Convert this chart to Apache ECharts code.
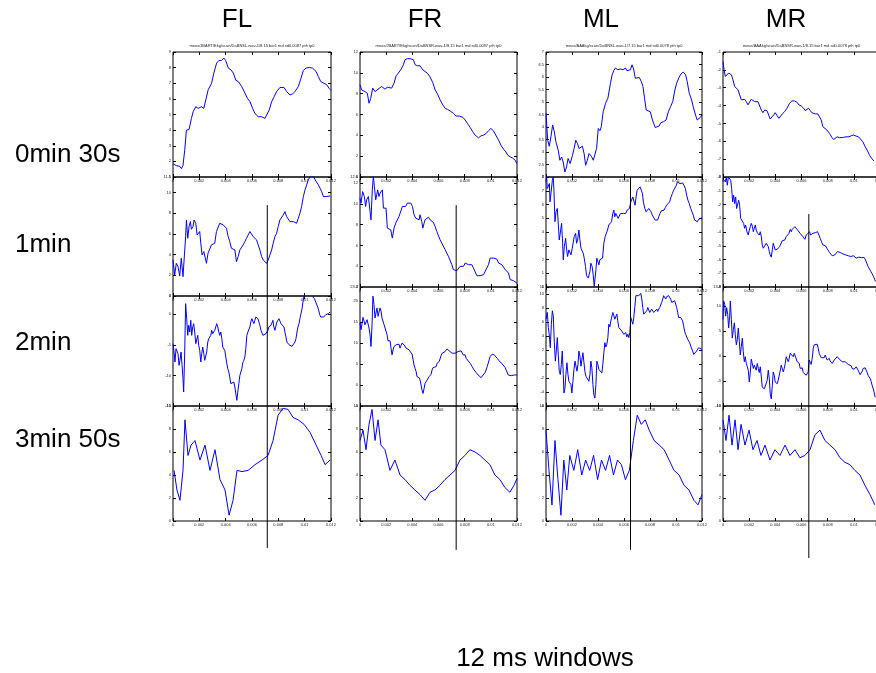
<!DOCTYPE html>
<html><head><meta charset="utf-8">
<script src="https://cdn.jsdelivr.net/npm/echarts@6/dist/echarts.min.js"></script>
<style>html,body{margin:0;padding:0;background:#fff}#c{width:876px;height:673px}</style>
</head><body><div id="c"></div>
<script>
// ---- labels ----
const columns = ['FL', 'FR', 'ML', 'MR'];
const rowLabels = ['0min 30s', '1min', '2min', '3min 50s'];
const xTitle = '12 ms windows';
const xTickStepMs = 2;
const xMaxMs = 12;
const subTitles = [
  'meas/JBART/Ekg/scan/DaBNSL.wav-1/8.15 bar1 md sd0.0087 pth tp0',
  'meas/JBART/Ekg/scan/DaBNSR.wav-1/8.15 bar1 md sd0.0087 pth tp0',
  'meas/AAAkg/scan/DaBNSL.wav-1/7.15 bar1 md sd0.0078 pth tp0',
  'meas/AAAkg/scan/DaBNSR.wav-1/8.15 bar1 md sd0.0078 pth tp0'
];
// y axis [min, max, interval] by row, then column
const yScalesRow1 = [[1, 9, 1], [0, 12, 2], [2, 7, 0.5], [-8, -1, 1]];
const yScalesRow2 = [[0, 11.5, 2], [2, 12.6, 2], [0, 8, 1], [-8, 0, 1]];
const yScalesRow3 = [[-15, 3, 5], [-5, 23.4, 5], [-6, 11, 2], [-10, 13.8, 5]];
const yScalesRow4 = [[0, 10, 2], [0, 10, 2], [0, 10, 2], [0, 10, 2]];
// window markers (ms) and their vertical extent (fraction of the marker band)
const markerMs = [7.16, 7.35, 6.5, 6.56];
const markerLow = [0.031, 0.026, 0.026, 0.005];
const markerHigh = [0.91, 0.91, 0.982, 0.887];

// ---- series data: [time ms, value] ----
const FL_r1 = [[0,1.85],[0.25,1.73],[0.51,1.68],[0.64,1.53],[0.76,1.75],[0.89,2.71],[1.02,4.0],[1.22,4.04],[1.4,4.75],[1.53,5.18],[1.73,5.5],[1.91,5.39],[2.04,5.44],[2.16,5.5],[2.34,5.39],[2.49,5.93],[2.67,6.58],[2.93,7.0],[3.1,7.65],[3.31,8.29],[3.49,8.46],[3.69,8.46],[3.87,8.61],[4.0,8.46],[4.2,7.97],[4.4,7.86],[4.58,7.65],[4.78,7.18],[4.96,7.11],[5.22,6.79],[5.47,6.36],[5.65,6.04],[5.85,5.82],[6.05,5.39],[6.22,5.07],[6.47,4.86],[6.73,4.86],[6.98,4.75],[7.1,4.86],[7.31,5.29],[7.49,5.82],[7.69,6.15],[7.87,6.47],[8.12,6.73],[8.43,6.73],[8.63,6.47],[8.88,6.25],[9.09,6.32],[9.26,6.47],[9.52,6.79],[9.7,7.26],[9.9,7.82],[10.1,7.97],[10.36,8.01],[10.6,7.97],[10.86,7.76],[11.04,7.43],[11.22,7.11],[11.47,7.0],[11.68,6.9],[11.85,6.68],[12,6.55]];
const FR_r1 = [[0,8.85],[0.13,8.36],[0.38,8.2],[0.56,8.04],[0.69,7.08],[0.82,7.56],[0.97,8.53],[1.15,8.2],[1.28,8.04],[1.48,8.53],[1.66,8.69],[1.91,8.43],[2.09,8.62],[2.24,8.53],[2.42,8.53],[2.6,9.01],[2.76,9.72],[2.93,9.97],[3.11,10.29],[3.32,10.78],[3.44,11.26],[3.62,11.36],[3.83,11.36],[3.95,11.42],[4.08,11.26],[4.21,10.78],[4.39,10.68],[4.59,10.68],[4.8,10.29],[4.97,10.13],[5.15,9.97],[5.36,9.59],[5.56,9.07],[5.74,8.36],[5.92,7.98],[6.12,7.4],[6.33,6.92],[6.51,6.59],[6.68,6.5],[6.89,6.34],[7.14,6.11],[7.35,5.85],[7.6,5.85],[7.86,5.73],[8.04,5.47],[8.21,5.15],[8.42,4.76],[8.62,4.34],[8.8,4.02],[9.06,3.76],[9.26,3.96],[9.44,4.02],[9.64,4.18],[9.82,4.44],[10.0,4.66],[10.2,4.44],[10.38,4.02],[10.59,3.54],[10.77,3.06],[10.97,2.67],[11.15,2.41],[11.3,2.09],[11.48,1.93],[11.66,1.83],[11.86,1.61],[11.99,1.29]];
const ML_r1 = [[0,4.55],[0.13,3.47],[0.25,3.23],[0.38,3.61],[0.51,4.08],[0.64,3.81],[0.76,3.41],[0.94,3.07],[1.07,2.67],[1.2,2.8],[1.32,2.6],[1.45,2.2],[1.58,2.4],[1.7,2.74],[1.86,2.54],[2.04,2.87],[2.16,3.14],[2.29,3.47],[2.42,3.34],[2.54,3.14],[2.67,3.21],[2.8,3.23],[2.93,2.94],[3.05,2.47],[3.18,2.67],[3.31,2.94],[3.49,2.83],[3.64,2.67],[3.77,2.74],[3.89,3.14],[4.02,3.94],[4.15,3.85],[4.25,4.01],[4.4,4.61],[4.58,4.95],[4.76,5.15],[4.96,5.75],[5.09,6.09],[5.22,6.26],[5.34,6.36],[5.52,6.29],[5.73,6.32],[5.93,6.29],[6.11,6.36],[6.23,6.25],[6.36,6.29],[6.49,6.29],[6.62,6.49],[6.74,6.32],[6.87,5.95],[7.0,5.99],[7.18,5.98],[7.33,5.82],[7.46,5.62],[7.58,5.15],[7.71,4.68],[7.84,4.68],[8.02,4.61],[8.19,4.28],[8.4,3.98],[8.52,3.9],[8.7,4.04],[8.83,4.17],[9.03,4.21],[9.24,4.28],[9.41,4.61],[9.59,4.82],[9.75,5.02],[9.92,5.49],[10.05,5.75],[10.23,5.98],[10.38,6.12],[10.56,6.2],[10.74,6.09],[10.86,5.82],[11.02,5.35],[11.2,5.08],[11.32,4.82],[11.5,4.48],[11.63,4.28],[11.76,4.28],[11.88,4.39],[12.0,4.48]];
const MR_r1 = [[0,-1.53],[0.08,-2.0],[0.18,-2.37],[0.31,-2.37],[0.43,-2.18],[0.51,-2.09],[0.64,-2.28],[0.76,-2.56],[0.89,-2.93],[1.02,-3.03],[1.15,-3.12],[1.27,-3.4],[1.4,-3.68],[1.53,-3.74],[1.65,-3.65],[1.78,-3.78],[1.91,-3.96],[2.04,-3.87],[2.16,-3.65],[2.29,-3.59],[2.42,-3.78],[2.54,-3.87],[2.67,-3.78],[2.8,-3.87],[2.93,-4.25],[3.05,-4.4],[3.18,-4.25],[3.36,-4.28],[3.49,-4.53],[3.61,-4.75],[3.74,-4.71],[3.87,-4.53],[3.99,-4.4],[4.15,-4.58],[4.27,-4.71],[4.4,-4.66],[4.53,-4.47],[4.71,-4.34],[4.89,-4.15],[5.09,-3.87],[5.27,-3.74],[5.47,-3.74],[5.65,-3.81],[5.8,-3.96],[5.98,-4.02],[6.16,-4.15],[6.28,-4.28],[6.41,-4.25],[6.54,-4.15],[6.67,-4.28],[6.79,-4.4],[6.92,-4.47],[7.07,-4.47],[7.25,-4.47],[7.38,-4.53],[7.51,-4.81],[7.63,-5.18],[7.76,-5.28],[7.94,-5.37],[8.14,-5.56],[8.32,-5.78],[8.45,-5.9],[8.6,-5.84],[8.73,-5.75],[8.91,-5.8],[9.03,-5.84],[9.21,-5.78],[9.41,-5.75],[9.62,-5.75],[9.8,-5.69],[9.97,-5.65],[10.18,-5.71],[10.36,-5.75],[10.51,-5.84],[10.69,-6.03],[10.87,-6.31],[11.02,-6.5],[11.2,-6.78],[11.37,-6.97],[11.53,-7.1]];

const FL_r2 = [[0,3.48],[0.13,2.03],[0.25,3.16],[0.38,2.84],[0.51,1.94],[0.63,3.65],[0.76,1.87],[0.84,1.81],[0.96,5.74],[1.02,7.35],[1.12,5.58],[1.22,6.71],[1.32,7.19],[1.4,6.45],[1.52,6.71],[1.6,7.35],[1.73,7.03],[1.83,5.9],[1.95,6.06],[2.03,6.23],[2.11,5.1],[2.21,3.97],[2.34,4.29],[2.41,4.29],[2.54,3.16],[2.66,4.13],[2.79,4.29],[2.92,4.94],[3.05,4.94],[3.17,5.1],[3.3,6.23],[3.43,6.39],[3.55,7.03],[3.68,6.87],[3.81,6.87],[3.93,7.03],[4.06,6.55],[4.19,5.74],[4.31,5.26],[4.44,4.61],[4.57,4.77],[4.7,4.45],[4.82,3.32],[4.95,3.81],[5.08,4.45],[5.2,4.39],[5.33,4.94],[5.46,5.26],[5.58,5.58],[5.71,5.74],[5.84,6.23],[5.96,6.06],[6.09,5.74],[6.22,5.58],[6.35,5.42],[6.47,4.94],[6.6,4.45],[6.73,3.81],[6.85,3.48],[6.98,3.32],[7.11,3.16],[7.23,3.48],[7.36,3.97],[7.49,4.45],[7.61,5.1],[7.74,5.74],[7.87,6.06],[7.99,6.71],[8.12,7.35],[8.25,7.52],[8.38,7.84],[8.5,8.16],[8.63,7.68],[8.76,7.52],[8.88,7.19],[9.01,7.03],[9.14,7.19],[9.26,7.19],[9.39,7.03],[9.52,7.52],[9.64,8.0],[9.77,8.65],[9.9,9.61],[10.03,10.26],[10.15,10.74],[10.28,11.23],[10.41,11.55],[10.53,11.55],[10.66,11.55],[10.79,11.23],[10.91,11.06],[11.04,10.74],[11.17,10.42],[11.29,10.1],[11.42,9.61],[11.55,9.61],[11.68,9.61],[11.8,9.68],[11.93,9.68]];
const FR_r2 = [[0,10.56],[0.08,10.08],[0.2,11.2],[0.33,10.72],[0.43,9.76],[0.51,10.4],[0.64,10.72],[0.77,9.28],[0.84,8.47],[0.94,11.36],[1.02,12.64],[1.1,11.68],[1.2,10.4],[1.28,10.88],[1.35,11.36],[1.45,10.72],[1.53,11.04],[1.61,10.88],[1.71,11.36],[1.79,9.6],[1.86,9.44],[1.99,9.6],[2.09,7.67],[2.22,7.83],[2.35,7.51],[2.47,6.71],[2.6,7.67],[2.73,8.15],[2.86,7.99],[2.98,8.79],[3.11,8.63],[3.24,9.76],[3.37,9.92],[3.49,9.76],[3.62,10.08],[3.75,10.08],[3.88,10.08],[4.01,9.76],[4.13,8.96],[4.26,8.63],[4.39,8.63],[4.52,8.47],[4.59,8.96],[4.72,8.31],[4.8,7.67],[4.9,8.15],[4.97,8.47],[5.1,8.63],[5.23,8.73],[5.36,8.47],[5.48,8.47],[5.61,8.22],[5.74,7.83],[5.87,7.35],[5.99,7.26],[6.12,6.55],[6.25,6.23],[6.38,6.07],[6.51,5.59],[6.63,5.27],[6.76,4.95],[6.89,4.79],[7.02,4.15],[7.14,3.67],[7.27,3.57],[7.4,3.57],[7.53,3.67],[7.65,3.99],[7.78,3.83],[7.91,3.99],[8.04,4.31],[8.16,4.47],[8.29,4.15],[8.42,4.05],[8.55,4.15],[8.67,3.83],[8.8,3.67],[8.93,3.09],[9.06,3.03],[9.18,3.09],[9.31,3.03],[9.44,3.19],[9.57,3.51],[9.69,3.6],[9.82,4.15],[9.95,4.79],[10.08,4.85],[10.2,4.79],[10.33,4.63],[10.46,4.69],[10.59,4.31],[10.71,4.15],[10.84,4.15],[10.97,3.99],[11.1,3.67],[11.22,3.67],[11.35,3.35],[11.48,2.71],[11.61,2.61],[11.73,2.61],[11.86,2.48],[11.99,2.38]];
const ML_r2 = [[0,7.76],[0.05,8.0],[0.1,7.16],[0.18,7.04],[0.26,7.52],[0.31,6.19],[0.38,6.8],[0.49,7.76],[0.56,8.0],[0.61,7.04],[0.69,4.75],[0.77,5.47],[0.87,5.71],[0.95,4.51],[1.02,3.42],[1.13,4.14],[1.2,4.63],[1.28,3.18],[1.33,1.98],[1.41,2.94],[1.51,3.54],[1.59,2.7],[1.66,2.22],[1.76,2.7],[1.84,2.82],[1.92,2.34],[2.02,2.82],[2.1,2.7],[2.17,3.66],[2.28,3.9],[2.35,3.18],[2.43,3.42],[2.53,4.14],[2.61,3.42],[2.69,2.82],[2.79,2.94],[2.86,2.46],[2.94,2.1],[3.04,1.49],[3.12,0.82],[3.25,0.65],[3.38,1.13],[3.45,1.73],[3.55,1.49],[3.63,0.89],[3.71,0.05],[3.76,-0.07],[3.84,1.25],[3.91,2.1],[3.99,1.86],[4.07,1.61],[4.14,1.98],[4.22,1.98],[4.35,2.1],[4.45,3.18],[4.55,3.66],[4.65,3.66],[4.73,4.14],[4.83,4.51],[4.94,4.43],[5.04,4.75],[5.14,5.35],[5.22,5.59],[5.29,5.11],[5.37,5.35],[5.47,5.35],[5.55,4.99],[5.63,5.11],[5.73,5.35],[5.81,5.47],[5.88,5.23],[5.98,5.35],[6.06,5.47],[6.14,5.35],[6.24,5.59],[6.32,5.47],[6.42,5.71],[6.52,6.19],[6.57,6.31],[6.68,6.55],[6.78,6.19],[6.85,5.95],[6.93,6.55],[7.01,7.04],[7.08,7.16],[7.16,7.16],[7.24,7.28],[7.34,7.4],[7.42,6.8],[7.49,6.19],[7.6,5.71],[7.7,5.47],[7.8,5.47],[7.9,5.71],[7.98,5.83],[8.08,5.47],[8.18,5.23],[8.29,5.11],[8.39,4.87],[8.49,4.75],[8.59,4.87],[8.67,5.11],[8.77,5.35],[8.87,5.54],[8.98,5.64],[9.08,5.59],[9.18,5.78],[9.28,5.95],[9.39,6.07],[9.51,6.19],[9.62,6.55],[9.72,6.8],[9.82,7.04],[9.92,7.16],[10.03,7.4],[10.1,7.64],[10.2,7.64],[10.31,7.52],[10.41,7.52],[10.51,7.57],[10.61,7.4],[10.72,7.16],[10.82,6.67],[10.92,6.31],[11.02,6.07],[11.13,5.71],[11.23,5.47],[11.33,5.23],[11.43,4.87],[11.53,4.75],[11.64,4.75],[11.74,4.92],[11.87,4.99],[12.0,5.04]];
const MR_r2 = [[0,-0.12],[0.08,0.0],[0.18,-0.36],[0.25,0],[0.33,-0.6],[0.41,0],[0.51,0.12],[0.59,-0.24],[0.66,-0.84],[0.74,-1.81],[0.81,-1.33],[0.89,-1.93],[0.97,-1.45],[1.04,-2.29],[1.12,-2.17],[1.2,-1.69],[1.27,-2.05],[1.35,-3.01],[1.42,-3.13],[1.5,-2.89],[1.58,-3.37],[1.65,-3.73],[1.73,-3.49],[1.83,-3.98],[1.93,-4.22],[2.01,-3.86],[2.09,-3.61],[2.16,-3.37],[2.24,-3.57],[2.32,-3.98],[2.39,-3.73],[2.47,-3.49],[2.54,-3.86],[2.62,-4.05],[2.7,-3.98],[2.77,-4.22],[2.85,-3.98],[2.93,-4.34],[3.0,-4.94],[3.08,-5.18],[3.16,-5.3],[3.23,-5.18],[3.31,-4.82],[3.38,-4.7],[3.46,-5.06],[3.54,-5.42],[3.61,-5.66],[3.69,-5.83],[3.77,-5.3],[3.84,-4.82],[3.92,-4.94],[3.99,-5.3],[4.07,-5.18],[4.15,-5.25],[4.22,-5.11],[4.33,-5.06],[4.43,-4.94],[4.53,-4.63],[4.63,-4.7],[4.73,-4.58],[4.83,-4.34],[4.94,-4.29],[5.04,-4.1],[5.14,-3.81],[5.22,-3.98],[5.29,-3.81],[5.39,-3.73],[5.5,-3.61],[5.6,-3.73],[5.7,-3.86],[5.8,-3.9],[5.9,-4.1],[6.01,-4.22],[6.11,-4.34],[6.18,-4.46],[6.26,-4.53],[6.36,-4.22],[6.49,-4.1],[6.62,-3.98],[6.69,-4.22],[6.79,-4.34],[6.87,-4.1],[6.97,-3.98],[7.05,-4.05],[7.12,-3.98],[7.23,-3.98],[7.33,-4.22],[7.43,-4.46],[7.53,-4.7],[7.63,-4.94],[7.74,-5.06],[7.84,-5.01],[7.94,-5.18],[8.04,-5.3],[8.14,-5.49],[8.24,-5.54],[8.35,-5.73],[8.45,-5.73],[8.55,-5.66],[8.65,-5.54],[8.75,-5.42],[8.85,-5.35],[8.96,-5.49],[9.06,-5.54],[9.16,-5.59],[9.26,-5.59],[9.36,-5.66],[9.47,-5.66],[9.57,-5.73],[9.67,-5.83],[9.77,-5.78],[9.87,-5.83],[9.97,-5.73],[10.08,-5.83],[10.18,-5.9],[10.28,-5.86],[10.38,-5.83],[10.48,-5.86],[10.59,-5.86],[10.69,-5.83],[10.79,-5.86],[10.89,-6.02],[10.99,-6.27],[11.09,-6.51],[11.2,-6.7],[11.3,-6.87],[11.4,-7.04],[11.5,-7.23],[11.6,-7.47],[11.65,-7.59]];

const FL_r3 = [[0,-4.8],[0.08,-6.17],[0.15,-7.8],[0.23,-5.62],[0.3,-5.51],[0.38,-6.44],[0.46,-8.35],[0.53,-7.53],[0.61,-6.17],[0.69,-8.35],[0.76,-10.53],[0.81,-12.71],[0.89,-6.17],[0.96,1.75],[1.04,-0.71],[1.12,-3.44],[1.19,-1.8],[1.27,-2.89],[1.35,-0.98],[1.42,-3.44],[1.5,-2.07],[1.57,-1.53],[1.65,-2.89],[1.73,-4.8],[1.8,-4.53],[1.88,-3.44],[1.95,-5.07],[2.03,-5.89],[2.11,-7.8],[2.18,-6.44],[2.26,-5.35],[2.34,-6.44],[2.41,-7.53],[2.49,-7.26],[2.56,-6.17],[2.64,-4.53],[2.72,-3.98],[2.79,-3.98],[2.87,-3.44],[2.94,-2.62],[3.02,-3.16],[3.1,-3.44],[3.17,-2.62],[3.25,-2.35],[3.32,-1.53],[3.4,-2.07],[3.48,-2.89],[3.55,-3.44],[3.63,-2.89],[3.71,-3.98],[3.78,-5.35],[3.86,-5.35],[3.93,-5.89],[4.01,-6.98],[4.09,-8.07],[4.16,-8.89],[4.24,-9.44],[4.31,-10.26],[4.39,-11.35],[4.47,-11.08],[4.54,-11.62],[4.62,-11.08],[4.7,-11.89],[4.77,-12.98],[4.85,-14.08],[4.92,-12.71],[5.0,-11.35],[5.08,-9.98],[5.15,-9.71],[5.23,-8.89],[5.3,-7.91],[5.38,-7.53],[5.46,-6.98],[5.53,-5.62],[5.61,-3.44],[5.69,-2.89],[5.76,-2.78],[5.84,-2.07],[5.91,-1.26],[5.99,-0.71],[6.07,-0.98],[6.14,-1.53],[6.22,-0.98],[6.29,-0.44],[6.37,-0.44],[6.45,-0.71],[6.52,-0.98],[6.6,-1.8],[6.68,-2.62],[6.75,-2.89],[6.83,-3.44],[6.9,-3.44],[6.98,-3.16],[7.06,-3.16],[7.13,-3.16],[7.21,-2.62],[7.28,-2.07],[7.36,-2.35],[7.44,-1.8],[7.51,-1.8],[7.59,-0.98],[7.66,-2.07],[7.74,-2.62],[7.82,-2.35],[7.89,-1.26],[7.97,-0.98],[8.05,-0.71],[8.12,-0.98],[8.2,-1.53],[8.27,-1.8],[8.35,-1.8],[8.43,-2.07],[8.5,-2.89],[8.58,-3.71],[8.65,-4.53],[8.73,-4.8],[8.81,-4.97],[8.88,-5.07],[8.96,-5.24],[9.04,-5.24],[9.11,-5.35],[9.19,-5.18],[9.26,-4.53],[9.34,-3.98],[9.42,-2.89],[9.49,-2.07],[9.57,-1.53],[9.64,-0.71],[9.72,0.11],[9.8,0.93],[9.87,2.02],[9.95,3.0],[10.03,3.65],[10.15,4.2],[10.28,4.2],[10.41,3.93],[10.53,3.11],[10.66,3.0],[10.74,2.56],[10.84,2.02],[10.91,1.75],[10.99,1.2],[11.07,0.66],[11.14,-0.06],[11.22,-0.44],[11.29,-0.6],[11.37,-0.55],[11.45,-0.44],[11.52,-0.27],[11.6,-0.06],[11.68,-0.16],[11.8,0.11],[11.93,0.38]];
const FR_r3 = [[0,14.8],[0.08,13.2],[0.15,13.6],[0.23,16.16],[0.31,16.0],[0.38,14.4],[0.46,14.8],[0.54,15.6],[0.61,16.0],[0.69,13.6],[0.77,12.0],[0.84,9.2],[0.92,14.4],[0.99,21.2],[1.07,19.2],[1.15,16.0],[1.22,17.2],[1.3,18.4],[1.38,16.4],[1.45,16.8],[1.53,18.4],[1.61,17.6],[1.68,16.0],[1.76,15.6],[1.84,14.4],[1.91,14.0],[1.99,14.4],[2.07,12.0],[2.14,10.56],[2.22,10.24],[2.3,10.56],[2.37,8.8],[2.45,7.2],[2.53,8.4],[2.6,9.2],[2.68,9.2],[2.76,9.6],[2.83,9.2],[2.91,9.6],[2.98,9.76],[3.06,8.8],[3.14,9.44],[3.21,10.0],[3.29,10.24],[3.37,9.6],[3.44,9.2],[3.52,8.8],[3.6,9.2],[3.67,8.8],[3.75,8.4],[3.83,8.0],[3.9,8.0],[3.98,7.36],[4.06,6.0],[4.13,4.8],[4.21,4.0],[4.29,3.2],[4.36,2.0],[4.44,1.6],[4.52,1.76],[4.59,1.2],[4.67,0.0],[4.74,-1.2],[4.82,-2.0],[4.9,-0.8],[4.97,0.4],[5.05,0.8],[5.13,1.2],[5.2,1.6],[5.28,2.0],[5.36,2.24],[5.43,2.56],[5.51,3.6],[5.59,4.16],[5.66,4.0],[5.74,4.4],[5.82,4.4],[5.89,5.2],[5.97,5.44],[6.05,5.6],[6.12,6.0],[6.2,7.04],[6.28,7.6],[6.35,7.6],[6.43,8.0],[6.51,8.0],[6.58,8.4],[6.66,8.64],[6.73,8.4],[6.81,8.16],[6.89,8.0],[6.96,8.0],[7.04,7.6],[7.12,7.2],[7.19,7.6],[7.27,7.6],[7.35,8.0],[7.42,8.0],[7.5,8.0],[7.58,7.6],[7.65,8.0],[7.73,8.16],[7.81,7.76],[7.88,7.2],[7.96,6.8],[8.04,7.2],[8.11,6.4],[8.19,6.0],[8.27,5.76],[8.34,5.76],[8.42,5.2],[8.49,4.8],[8.57,4.4],[8.65,4.0],[8.72,3.6],[8.8,3.2],[8.88,2.96],[8.95,2.56],[9.03,2.4],[9.11,2.16],[9.18,2.0],[9.26,1.76],[9.34,2.0],[9.41,2.4],[9.49,2.8],[9.57,3.04],[9.64,3.6],[9.72,4.4],[9.8,5.2],[9.87,6.0],[9.95,6.8],[10.03,7.2],[10.1,7.36],[10.18,7.2],[10.26,7.2],[10.33,7.04],[10.41,6.8],[10.48,6.4],[10.56,6.0],[10.64,5.76],[10.71,5.44],[10.79,5.36],[10.87,5.04],[10.94,4.8],[11.02,4.64],[11.1,4.16],[11.17,3.6],[11.25,3.2],[11.33,2.4],[11.4,2.4],[11.48,2.24],[11.56,2.24],[11.63,2.4],[11.71,2.56],[11.79,2.4],[11.86,2.4],[11.99,2.4]];
const ML_r3 = [[0,6.4],[0.1,7.36],[0.18,5.2],[0.26,4.0],[0.33,2.33],[0.41,5.68],[0.49,7.6],[0.56,6.88],[0.64,3.05],[0.72,0.41],[0.79,1.85],[0.87,3.77],[0.95,1.13],[1.02,-1.03],[1.1,-1.51],[1.18,-0.07],[1.25,1.85],[1.33,-1.51],[1.38,-4.15],[1.46,-3.43],[1.53,-1.51],[1.61,0.17],[1.69,-1.51],[1.76,-2.47],[1.84,-2.23],[1.92,-2.95],[1.99,-4.15],[2.07,-2.47],[2.15,-0.79],[2.23,0.41],[2.3,0.17],[2.38,-1.03],[2.46,-0.07],[2.53,1.85],[2.61,1.13],[2.69,-0.31],[2.76,-0.55],[2.84,1.61],[2.92,1.37],[2.99,-1.03],[3.07,-1.75],[3.15,-1.51],[3.22,-1.99],[3.3,-2.47],[3.38,-1.51],[3.45,0.41],[3.53,-0.55],[3.61,-2.95],[3.68,-4.39],[3.76,-4.87],[3.84,-2.95],[3.91,0.41],[3.99,-0.07],[4.07,-0.79],[4.14,-0.55],[4.22,-1.03],[4.3,-1.27],[4.37,-0.07],[4.45,1.61],[4.53,3.05],[4.6,2.42],[4.68,2.81],[4.76,3.77],[4.83,5.68],[4.91,5.3],[4.99,6.16],[5.06,6.4],[5.14,7.36],[5.22,6.88],[5.29,6.4],[5.37,6.64],[5.45,7.12],[5.52,6.16],[5.6,5.2],[5.68,4.96],[5.75,5.3],[5.83,4.72],[5.91,4.48],[5.98,4.24],[6.06,4.24],[6.14,4.48],[6.21,3.86],[6.29,4.24],[6.37,3.77],[6.45,4.48],[6.52,6.64],[6.6,6.4],[6.68,5.68],[6.75,6.64],[6.83,8.08],[6.91,9.76],[6.98,9.52],[7.06,10.0],[7.14,9.76],[7.21,10.0],[7.29,10.1],[7.37,9.28],[7.44,8.08],[7.52,7.12],[7.6,6.88],[7.67,7.12],[7.75,7.6],[7.83,8.08],[7.9,7.84],[7.98,7.36],[8.06,7.51],[8.13,7.84],[8.21,7.6],[8.29,7.36],[8.36,7.36],[8.44,7.6],[8.52,7.84],[8.59,7.51],[8.67,7.6],[8.75,8.08],[8.82,8.32],[8.9,8.8],[8.98,9.28],[9.05,9.76],[9.13,9.62],[9.21,9.28],[9.28,9.62],[9.36,9.76],[9.44,9.76],[9.51,9.52],[9.59,9.28],[9.67,8.8],[9.74,8.56],[9.82,8.8],[9.9,9.04],[9.97,8.8],[10.05,8.08],[10.13,7.36],[10.2,6.64],[10.28,6.4],[10.36,6.64],[10.43,6.64],[10.51,6.16],[10.59,5.44],[10.66,4.72],[10.74,4.24],[10.82,4.0],[10.9,3.53],[10.97,3.29],[11.05,3.05],[11.13,2.57],[11.2,2.33],[11.28,1.85],[11.36,1.37],[11.43,1.46],[11.51,1.61],[11.59,1.85],[11.66,2.09],[11.74,2.33],[11.87,2.18],[11.99,2.09]];
const MR_r3 = [[0,7.3],[0.05,11.01],[0.13,10.34],[0.2,7.97],[0.28,9.66],[0.36,8.31],[0.43,5.61],[0.51,7.97],[0.56,11.01],[0.64,7.3],[0.71,3.58],[0.79,5.27],[0.87,6.62],[0.94,4.26],[1.02,2.23],[1.09,3.24],[1.17,5.61],[1.25,2.91],[1.32,0.2],[1.4,1.89],[1.48,3.58],[1.55,0.88],[1.63,-1.15],[1.7,-0.14],[1.78,-1.49],[1.86,-1.82],[1.93,-2.84],[2.01,-5.2],[2.09,-3.18],[2.16,-0.61],[2.24,-0.81],[2.32,-2.5],[2.39,-1.82],[2.47,-1.69],[2.54,-2.84],[2.62,-1.49],[2.7,-2.5],[2.77,-3.31],[2.85,-2.16],[2.93,-4.19],[3.0,-6.22],[3.08,-6.55],[3.16,-6.55],[3.23,-6.22],[3.31,-6.89],[3.38,-4.86],[3.46,-2.84],[3.54,-4.53],[3.61,-7.57],[3.69,-8.58],[3.77,-5.88],[3.84,-3.18],[3.92,-3.85],[3.99,-5.2],[4.07,-4.86],[4.15,-5.54],[4.22,-4.86],[4.3,-4.53],[4.38,-2.84],[4.45,-1.82],[4.53,-2.16],[4.61,-3.18],[4.68,-2.5],[4.76,-1.49],[4.83,-0.14],[4.91,-0.47],[4.99,-1.15],[5.06,-0.47],[5.14,0.54],[5.22,0.88],[5.29,0.2],[5.37,-0.14],[5.45,0.54],[5.52,0.88],[5.6,0.2],[5.67,-1.15],[5.75,-1.15],[5.83,-1.49],[5.9,-2.5],[5.98,-2.16],[6.06,-2.36],[6.13,-3.31],[6.21,-3.51],[6.28,-3.18],[6.36,-3.85],[6.44,-4.19],[6.51,-3.18],[6.59,-0.81],[6.67,-1.28],[6.74,-1.69],[6.82,-0.47],[6.9,1.55],[6.97,2.23],[7.05,2.03],[7.12,2.23],[7.2,2.36],[7.28,1.55],[7.35,0.54],[7.43,0.2],[7.51,-0.34],[7.58,-0.61],[7.66,-0.47],[7.74,-0.34],[7.81,0.2],[7.89,-0.34],[7.96,-0.81],[8.04,-0.47],[8.12,-0.47],[8.19,-1.01],[8.27,-1.15],[8.35,-1.49],[8.42,-1.15],[8.5,-0.81],[8.58,-0.61],[8.65,-0.47],[8.73,-0.14],[8.8,-0.34],[8.88,-0.61],[8.96,-0.81],[9.03,-1.01],[9.11,-1.15],[9.19,-1.15],[9.26,-1.01],[9.34,-1.15],[9.41,-1.28],[9.49,-1.28],[9.57,-1.69],[9.64,-1.82],[9.72,-1.69],[9.8,-1.96],[9.87,-2.5],[9.95,-2.84],[10.03,-2.64],[10.1,-2.5],[10.18,-2.16],[10.25,-2.5],[10.33,-2.84],[10.41,-3.31],[10.48,-3.72],[10.56,-3.51],[10.64,-3.04],[10.71,-2.5],[10.79,-2.16],[10.87,-2.36],[10.94,-2.84],[11.02,-3.31],[11.09,-3.85],[11.17,-4.19],[11.25,-4.53],[11.32,-5.07],[11.4,-5.88],[11.48,-6.55],[11.55,-7.23],[11.63,-8.24]];

const FL_r4 = [[0.08,4.4],[0.3,2.7],[0.53,1.8],[0.76,4.4],[0.91,8.8],[1.14,5.7],[1.37,6.6],[1.67,7.0],[2.05,5.3],[2.43,6.6],[2.81,4.4],[3.19,6.2],[3.57,3.6],[3.95,2.7],[4.26,0.5],[4.56,1.8],[4.86,4.4],[5.24,4.3],[5.7,4.4],[6.23,4.9],[6.76,5.3],[7.22,5.7],[7.6,7.0],[7.98,9.2],[8.36,9.8],[8.74,9.7],[9.12,9.0],[9.5,8.8],[9.96,8.4],[10.41,7.7],[10.87,6.6],[11.25,5.7],[11.55,4.9],[11.93,5.3]];
const FR_r4 = [[0,7.0],[0.23,7.9],[0.46,6.2],[0.69,8.4],[0.92,9.7],[1.15,7.0],[1.38,8.8],[1.6,6.6],[1.91,6.2],[2.29,4.4],[2.67,5.3],[3.06,4.0],[3.44,3.6],[3.82,3.1],[4.2,2.7],[4.58,2.3],[4.97,1.8],[5.35,2.5],[5.73,2.7],[6.11,3.1],[6.49,3.6],[6.88,4.0],[7.26,4.4],[7.64,5.3],[8.02,5.7],[8.4,6.2],[8.79,6.0],[9.17,5.7],[9.55,5.3],[9.93,4.9],[10.31,4.0],[10.7,3.6],[11.08,2.9],[11.46,2.5],[11.77,3.1],[12.0,3.7]];
const ML_r4 = [[0,7.9],[0.23,4.4],[0.46,1.4],[0.69,7.0],[0.92,3.6],[1.15,0.5],[1.37,5.3],[1.6,2.7],[1.83,5.7],[2.14,4.4],[2.44,6.2],[2.75,4.0],[3.05,5.3],[3.36,4.4],[3.66,5.7],[3.97,3.6],[4.27,5.3],[4.58,4.4],[4.89,5.7],[5.19,4.0],[5.5,5.3],[5.8,4.9],[6.11,3.6],[6.41,4.4],[6.72,7.0],[7.02,9.2],[7.33,8.4],[7.63,8.8],[7.94,7.9],[8.32,7.0],[8.71,6.6],[9.09,6.2],[9.47,5.3],[9.85,4.4],[10.24,4.0],[10.62,3.1],[11.0,2.7],[11.38,1.8],[11.69,1.4],[12.0,2.3]];
const MR_r4 = [[0,8.8],[0.23,7.0],[0.46,9.2],[0.69,6.6],[0.92,8.8],[1.15,6.2],[1.38,8.4],[1.68,6.6],[1.99,7.9],[2.29,6.2],[2.6,7.0],[2.9,5.7],[3.21,6.6],[3.59,5.3],[3.97,6.2],[4.35,5.7],[4.74,6.6],[5.12,5.7],[5.5,6.2],[5.88,5.5],[6.26,5.7],[6.65,6.2],[7.03,7.5],[7.41,7.9],[7.79,7.0],[8.17,6.6],[8.56,6.2],[8.94,5.5],[9.32,5.1],[9.7,4.9],[10.08,4.4],[10.47,4.0],[10.85,3.1],[11.23,2.3],[11.61,1.4]];

// ---- assemble ----
const seriesByRow = [
  [FL_r1, FR_r1, ML_r1, MR_r1],
  [FL_r2, FR_r2, ML_r2, MR_r2],
  [FL_r3, FR_r3, ML_r3, MR_r3],
  [FL_r4, FR_r4, ML_r4, MR_r4]
];
const yScales = [yScalesRow1, yScalesRow2, yScalesRow3, yScalesRow4];

// layout (pixels)
const colLeft = [173, 360, 546, 723];
const colWidth = [158, 157, 156, 157];
const rowEdgesByCol = [
  [52, 177, 296, 406, 521],
  [52, 177, 287, 406, 521],
  [52, 177, 287, 406, 521],
  [52, 177, 287, 406, 521]
];
const markerBand = [170, 560];

const chart = echarts.init(document.getElementById('c'), null, {renderer: 'canvas'});
const grid = [], xAxis = [], yAxis = [], series = [];
const tinyLabel = {fontSize: 4, color: '#222', margin: 2, fontFamily: 'Liberation Sans, Arial, sans-serif'};
const tick = {inside: true, length: 3, lineStyle: {color: '#000', width: 1}};
const noLine = {show: false, onZero: false};
const toSec = d => d.map(p => [p[0] / 1000, p[1]]);

for (let r = 0; r < 4; r++) {
  for (let c = 0; c < 4; c++) {
    const gi = grid.length;
    const top = rowEdgesByCol[c][r], bottom = rowEdgesByCol[c][r + 1];
    grid.push({left: colLeft[c], top: top, width: colWidth[c], height: bottom - top,
      containLabel: false, outerBoundsMode: 'none',
      show: true, borderColor: '#000', borderWidth: 1, backgroundColor: 'transparent'});
    const [ymin, ymax, yint] = yScales[r][c];
    const xa = xAxis.length;
    xAxis.push({gridIndex: gi, type: 'value', position: 'bottom', min: 0, max: xMaxMs / 1000, interval: xTickStepMs / 1000,
      axisLine: noLine, axisTick: tick, axisLabel: tinyLabel, splitLine: {show: false}});
    xAxis.push({gridIndex: gi, type: 'value', position: 'top', min: 0, max: xMaxMs / 1000, interval: xTickStepMs / 1000,
      axisLine: noLine, axisTick: tick, axisLabel: {show: false}, splitLine: {show: false}});
    const ya = yAxis.length;
    yAxis.push({gridIndex: gi, type: 'value', position: 'left', min: ymin, max: ymax, interval: yint,
      axisLine: noLine, axisTick: tick, axisLabel: tinyLabel, splitLine: {show: false}});
    yAxis.push({gridIndex: gi, type: 'value', position: 'right', min: ymin, max: ymax, interval: yint,
      axisLine: noLine, axisTick: tick, axisLabel: {show: false}, splitLine: {show: false}});
    series.push({type: 'line', xAxisIndex: xa, yAxisIndex: ya, data: toSec(seriesByRow[r][c]),
      symbol: 'none', showSymbol: false, clip: true, silent: true,
      lineStyle: {color: '#0000ff', width: 1}});
  }
}
// marker band grids (one per column)
for (let c = 0; c < 4; c++) {
  const gi = grid.length;
  grid.push({left: colLeft[c], top: markerBand[0], width: colWidth[c], height: markerBand[1] - markerBand[0],
    show: false, containLabel: false, outerBoundsMode: 'none'});
  const xa = xAxis.length, ya = yAxis.length;
  xAxis.push({gridIndex: gi, type: 'value', min: 0, max: xMaxMs, show: false});
  yAxis.push({gridIndex: gi, type: 'value', min: 0, max: 1, show: false});
  series.push({type: 'line', xAxisIndex: xa, yAxisIndex: ya, symbol: 'none', clip: false, silent: true, z: 5,
    data: [[markerMs[c], markerLow[c]], [markerMs[c], markerHigh[c]]],
    lineStyle: {color: '#000', width: 1}});
}

const bigFont = '26px "Liberation Sans", Arial, sans-serif';
const graphic = [];
const colTitleX = [237, 425, 601, 786];
columns.forEach((t, c) => graphic.push({type: 'text', style: {text: t, x: colTitleX[c], y: 20, font: bigFont, fill: '#000', textAlign: 'center', textVerticalAlign: 'middle'}}));
const rowLabelY = [155, 245, 343, 440];
rowLabels.forEach((t, r) => graphic.push({type: 'text', style: {text: t, x: 15, y: rowLabelY[r], font: bigFont, fill: '#000', textAlign: 'left', textVerticalAlign: 'middle'}}));
graphic.push({type: 'text', style: {text: xTitle, x: 545, y: 659, font: bigFont, fill: '#000', textAlign: 'center', textVerticalAlign: 'middle'}});
subTitles.forEach((t, c) => graphic.push({type: 'text', style: {text: t, x: colLeft[c] + colWidth[c] / 2, y: 46, font: '4px "Liberation Sans", Arial, sans-serif', fill: '#222', textAlign: 'center', textVerticalAlign: 'middle'}}));

chart.setOption({animation: false, backgroundColor: '#fff', grid, xAxis, yAxis, series, graphic});
</script></body></html>
